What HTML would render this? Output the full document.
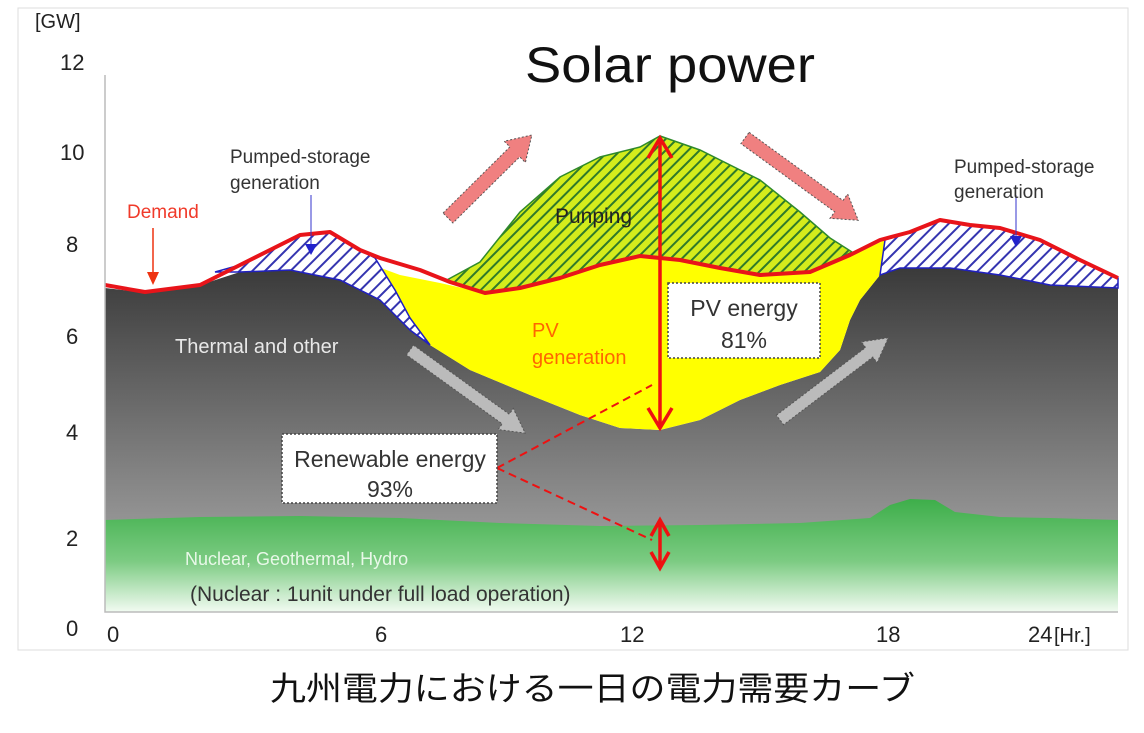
<!DOCTYPE html>
<html><head><meta charset="utf-8"><style>
html,body{margin:0;padding:0;background:#fff;}
svg{display:block;}
text{font-family:"Liberation Sans","Noto Sans CJK JP",sans-serif;}
</style></head><body>
<svg width="1144" height="733" viewBox="0 0 1144 733" xmlns="http://www.w3.org/2000/svg">
<defs>
<linearGradient id="gray" x1="0" y1="0" x2="0" y2="1"><stop offset="0" stop-color="#3a3a3a"/><stop offset="1" stop-color="#b4b4b4"/></linearGradient>
<linearGradient id="grn" x1="0" y1="0" x2="0" y2="1"><stop offset="0" stop-color="#3dae4a"/><stop offset="0.55" stop-color="#7ccb82"/><stop offset="1" stop-color="#f2fbf2"/></linearGradient>
<pattern id="hb" width="9" height="9" patternUnits="userSpaceOnUse" patternTransform="rotate(45)"><rect width="9" height="9" fill="#fff"/><rect width="2" height="9" fill="#3535b0"/></pattern>
<pattern id="hg" width="8" height="8" patternUnits="userSpaceOnUse" patternTransform="rotate(45)"><rect width="8" height="8" fill="#d4ec1c"/><rect width="2" height="8" fill="#2f7a2a"/></pattern>
</defs>
<rect x="18" y="8" width="1110" height="642" fill="#fff" stroke="#ddd"/>
<path d="M105,288 L140,292 L200,285 L240,272 L290,270 L340,280 L380,300 L410,330 L430,345 L470,370 L530,395 L580,415 L620,428 L660,430 L700,420 L740,400 L780,385 L820,372 L840,350 L850,320 L860,300 L880,275 L900,268 L950,268 L1000,275 L1050,285 L1118,288 L1118,612 L105,612Z" fill="url(#gray)"/>
<path d="M105,520 L200,517 L300,516 L400,518 L500,523 L600,526 L700,525 L800,523 L870,518 L890,505 L910,499 L935,500 L955,512 L1000,517 L1050,518 L1118,520 L1118,612 L105,612Z" fill="url(#grn)"/>
<path d="M365,262 L400,275 L440,283 L485,293 L520,288 L560,277 L600,264 L640,255 L680,259 L720,267 L760,274 L810,272 L850,256 L885,240 L880,275 L860,300 L850,320 L840,350 L820,372 L780,385 L740,400 L700,420 L660,430 L620,428 L580,415 L530,395 L470,370 L430,345 L410,330 L380,300Z" fill="#ffff00"/>
<path d="M445,281 L480,262 L520,212 L560,177 L600,157 L640,147 L660,136 L700,150 L760,180 L800,212 L830,238 L852,252 L810,272 L760,274 L720,267 L680,259 L640,255 L600,264 L560,277 L520,288 L485,293Z" fill="url(#hg)" stroke="#2f8a2a" stroke-width="1.5"/>
<path d="M215,272 L240,265 L300,235 L330,232 L360,250 L375,258 L395,290 L410,318 L430,345 L410,330 L380,300 L340,280 L290,270 L240,272Z" fill="url(#hb)" stroke="#2020c0" stroke-width="1.5"/>
<path d="M880,275 L885,240 L910,232 L940,220 L970,225 L1000,228 L1040,240 L1080,260 L1118,278 L1118,288 L1050,285 L1000,275 L950,268 L900,268Z" fill="url(#hb)" stroke="#2020c0" stroke-width="1.5"/>
<path d="M105,285 L145,292 L200,285 L240,265 L300,235 L330,232 L360,250 L380,258 L420,270 L450,282 L485,293 L520,288 L560,278 L600,265 L640,256 L680,260 L720,268 L760,275 L810,272 L850,255 L880,240 L910,232 L940,220 L970,225 L1000,228 L1040,240 L1080,260 L1118,278" fill="none" stroke="#e8141a" stroke-width="4" stroke-linejoin="round"/>
<path d="M105,75 L105,612 L1118,612" fill="none" stroke="#bbb" stroke-width="1.5"/>
<g stroke="#555" stroke-width="1" stroke-dasharray="2,2">
<path transform="translate(448,218) rotate(-44.7)" d="M0,-7 L94,-7 L94,-15 L118,0 L94,15 L94,7 L0,7Z" fill="#f08080"/>
<path transform="translate(745,138) rotate(36)" d="M0,-7 L116,-7 L116,-15 L140,0 L116,15 L116,7 L0,7Z" fill="#f08080"/>
<path transform="translate(410,350) rotate(35.8)" d="M0,-6 L118,-6 L118,-13 L142,0 L118,13 L118,6 L0,6Z" fill="#bbb"/>
<path transform="translate(780,420) rotate(-37.2)" d="M0,-6 L112,-6 L112,-13 L136,0 L112,13 L112,6 L0,6Z" fill="#bbb"/>
</g>
<g stroke="#ee1111" stroke-width="3.5" fill="none">
<path d="M660,140 L660,426 M648,158 L660,138 L672,158 M648,408 L660,428 L672,408"/>
<path d="M660,522 L660,566 M651,536 L660,520 L669,536 M651,552 L660,568 L669,552"/>
</g>
<g stroke="#ee1111" stroke-width="2" fill="none" stroke-dasharray="8,5">
<path d="M497,468 L652,385"/><path d="M497,468 L652,540"/>
</g>
<path d="M153,228 L153,275" stroke="#ee3311" stroke-width="1.5"/><path d="M147,272 L153,285 L159,272Z" fill="#ee3311"/>
<path d="M311,195 L311,248" stroke="#3333cc" stroke-width="1"/><path d="M305,244 L311,255 L317,244Z" fill="#2222cc"/>
<path d="M1016,195 L1016,240" stroke="#3333cc" stroke-width="1"/><path d="M1010,236 L1016,247 L1022,236Z" fill="#2222cc"/>
<rect x="668" y="283" width="152" height="75" fill="#fff" stroke="#444" stroke-width="1.5" stroke-dasharray="2,2"/>
<rect x="282" y="434" width="215" height="69" fill="#fff" stroke="#444" stroke-width="1.5" stroke-dasharray="2,2"/>
<g font-size="23" fill="#333" text-anchor="middle">
<text x="744" y="316">PV energy</text><text x="744" y="348">81%</text>
<text x="390" y="467">Renewable energy</text><text x="390" y="497">93%</text>
</g>
<g font-size="19" fill="#333">
<text x="230" y="163">Pumped-storage</text><text x="230" y="189">generation</text>
<text x="954" y="173">Pumped-storage</text><text x="954" y="198">generation</text>
<text x="555" y="223" fill="#222" font-size="21">Punping</text>
<text x="190" y="601" font-size="21">(Nuclear :  1unit under full load operation)</text>
</g>
<text x="127" y="218" font-size="19" fill="#f03a2a">Demand</text>
<text x="532" y="337" font-size="20" fill="#ff6600">PV</text>
<text x="532" y="364" font-size="20" fill="#ff6600">generation</text>
<text x="175" y="353" font-size="20" fill="#e8e8e8">Thermal and other</text>
<text x="185" y="565" font-size="18" fill="#e8f8e8">Nuclear, Geothermal, Hydro</text>
<g font-size="22" fill="#222">
<text x="35" y="28" font-size="20">[GW]</text>
<text x="60" y="70">12</text><text x="60" y="160">10</text><text x="66" y="252">8</text><text x="66" y="344">6</text><text x="66" y="440">4</text><text x="66" y="546">2</text><text x="66" y="636">0</text>
<text x="107" y="642">0</text><text x="375" y="642">6</text><text x="620" y="642">12</text><text x="876" y="642">18</text><text x="1028" y="642">24</text>
<text x="1054" y="642" font-size="20">[Hr.]</text>
</g>
<text x="525" y="82" font-size="50" fill="#111" textLength="290" lengthAdjust="spacingAndGlyphs">Solar power</text>
<text x="270" y="700" font-size="33" fill="#111" textLength="645" lengthAdjust="spacingAndGlyphs">九州電力における一日の電力需要カーブ</text>
</svg>
</body></html>
